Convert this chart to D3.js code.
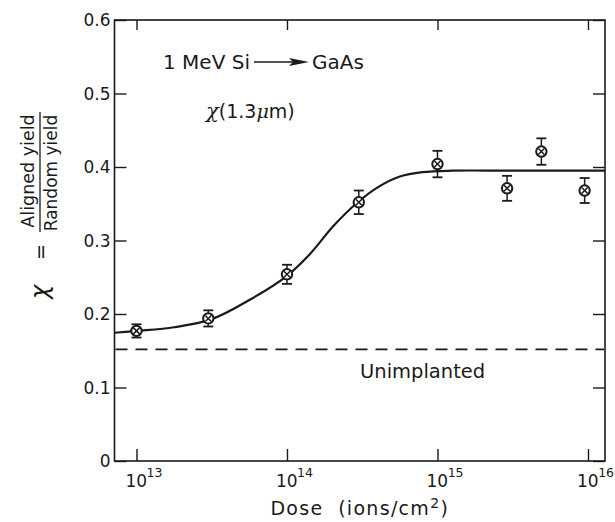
<!DOCTYPE html>
<html>
<head>
<meta charset="utf-8">
<script src="https://cdn.jsdelivr.net/npm/d3@7"></script>
<style>
  html, body { margin: 0; padding: 0; background: #fff; }
  svg { display: block; }
  text { font-family: "DejaVu Sans", Verdana, sans-serif; fill: #1a1a1a; }
</style>
</head>
<body>
<svg id="chart" width="615" height="522"></svg>
<script>
// Measured channeling yield vs. implant dose
const doses    = [1e13, 3e13, 1e14, 3e14, 1e15, 2.9e15, 4.9e15, 9.5e15];
const chiVals  = [0.177, 0.194, 0.254, 0.352, 0.404, 0.371, 0.421, 0.368];
const chiErr   = [0.009, 0.011, 0.013, 0.016, 0.018, 0.017, 0.018, 0.017];

// Fitted curve (log10 dose, chi)
const fitLogDose = [12.854, 13.0, 13.25, 13.5, 13.75, 14.0, 14.15, 14.31, 14.47, 14.6, 14.75, 14.9, 15.1, 15.5, 16.113];
const fitChi     = [0.1745, 0.177, 0.182, 0.193, 0.219, 0.252, 0.281, 0.320, 0.352, 0.372, 0.387, 0.393, 0.395, 0.395, 0.395];

// Unimplanted reference level
const unimplanted = 0.152;

const xTickExps = [13, 14, 15, 16];
const yTicks    = [0, 0.1, 0.2, 0.3, 0.4, 0.5, 0.6];

const svg = d3.select("#chart");
const plotLeft = 114.5, plotRight = 605, plotTop = 20, plotBottom = 461;

const x = d3.scaleLog().domain([Math.pow(10, 12.854), Math.pow(10, 16.113)]).range([plotLeft, plotRight]);
const y = d3.scaleLinear().domain([0, 0.6]).range([plotBottom, plotTop]);

const ink = "#1a1a1a";

// frame
svg.append("rect")
  .attr("x", plotLeft).attr("y", plotTop)
  .attr("width", plotRight - plotLeft).attr("height", plotBottom - plotTop)
  .attr("fill", "none").attr("stroke", ink).attr("stroke-width", 1.6);

const xTickVals = xTickExps.map(e => Math.pow(10, e));

// inward ticks on all four sides
const gx = svg.append("g").attr("transform", `translate(0,${plotBottom})`)
  .call(d3.axisBottom(x).tickValues(xTickVals).tickSize(-12).tickFormat(""));
const gxt = svg.append("g").attr("transform", `translate(0,${plotTop})`)
  .call(d3.axisTop(x).tickValues(xTickVals).tickSize(-10).tickFormat(""));
const gy = svg.append("g").attr("transform", `translate(${plotLeft},0)`)
  .call(d3.axisLeft(y).tickValues(yTicks).tickSize(-12).tickFormat(""));
const gyr = svg.append("g").attr("transform", `translate(${plotRight},0)`)
  .call(d3.axisRight(y).tickValues(yTicks).tickSize(-12).tickFormat(""));

[gx, gxt, gy, gyr].forEach(g => {
  g.select(".domain").remove();
  g.selectAll(".tick line").attr("stroke", ink).attr("stroke-width", 1.4);
});

// y tick labels
svg.append("g").selectAll("text").data(yTicks).join("text")
  .attr("x", plotLeft - 4)
  .attr("y", d => y(d) + 6)
  .attr("text-anchor", "end")
  .attr("font-size", 17)
  .text(d => d === 0 ? "0" : d.toFixed(1));

// x tick labels: "10" centred on the tick, exponent raised to its right
const xl = svg.append("g").selectAll("text").data(xTickExps).join("text")
  .attr("x", d => x(Math.pow(10, d)) - 11)
  .attr("y", plotBottom + 26)
  .attr("font-size", 17);
xl.append("tspan").text("10");
xl.append("tspan").attr("dx", -0.5).attr("dy", -10).attr("font-size", 12.5).text(d => d);

// x axis title
const xt = svg.append("text")
  .attr("x", (plotLeft + plotRight) / 2).attr("y", 515)
  .attr("text-anchor", "middle")
  .attr("font-size", 19)
  .attr("letter-spacing", 1.3)
  .attr("xml:space", "preserve");
xt.append("tspan").text("Dose  (ions/cm");
xt.append("tspan").attr("dy", -7).attr("font-size", 14).text("2");
xt.append("tspan").attr("dy", 7).text(")");

// y axis title: chi = Aligned yield / Random yield
const yt = svg.append("g");
yt.append("text")
  .attr("transform", "translate(48,292) rotate(-90)")
  .attr("text-anchor", "middle")
  .attr("font-size", 24)
  .attr("font-family", "DejaVu Serif, serif")
  .attr("font-style", "italic")
  .text("χ");
yt.append("text")
  .attr("transform", "translate(46.5,252) rotate(-90)")
  .attr("text-anchor", "middle")
  .attr("font-size", 19)
  .attr("font-family", "Liberation Sans, Arial, sans-serif")
  .text("=");
yt.append("text")
  .attr("transform", "translate(34,171) rotate(-90)")
  .attr("text-anchor", "middle")
  .attr("font-size", 17.5)
  .text("Aligned yield");
yt.append("line")
  .attr("x1", 40).attr("x2", 40).attr("y1", 232).attr("y2", 112)
  .attr("stroke", ink).attr("stroke-width", 1.3);
yt.append("text")
  .attr("transform", "translate(57,173) rotate(-90)")
  .attr("text-anchor", "middle")
  .attr("font-size", 17)
  .text("Random yield");

// unimplanted dashed line
svg.append("line")
  .attr("x1", plotLeft + 1).attr("x2", plotRight - 1)
  .attr("y1", y(unimplanted)).attr("y2", y(unimplanted))
  .attr("stroke", ink).attr("stroke-width", 1.8)
  .attr("stroke-dasharray", "12,8");
svg.append("text")
  .attr("x", 360).attr("y", 378)
  .attr("font-size", 19.5)
  .text("Unimplanted");

// fitted curve
const fitData = fitLogDose.map((e, i) => ({ d: Math.pow(10, e), v: fitChi[i] }));
svg.append("path")
  .datum(fitData)
  .attr("fill", "none")
  .attr("stroke", ink)
  .attr("stroke-width", 2.2)
  .attr("d", d3.line().x(p => x(p.d)).y(p => y(p.v)).curve(d3.curveCatmullRom.alpha(0.5)));

// data points with error bars
const pts = doses.map((d, i) => ({ d, v: chiVals[i], e: chiErr[i] }));
const pg = svg.append("g").selectAll("g").data(pts).join("g")
  .attr("transform", p => `translate(${x(p.d)},0)`);
pg.append("line")
  .attr("x1", 0).attr("x2", 0)
  .attr("y1", p => y(p.v + p.e)).attr("y2", p => y(p.v - p.e))
  .attr("stroke", ink).attr("stroke-width", 1.5);
pg.append("line")
  .attr("x1", -5).attr("x2", 5)
  .attr("y1", p => y(p.v + p.e)).attr("y2", p => y(p.v + p.e))
  .attr("stroke", ink).attr("stroke-width", 1.8);
pg.append("line")
  .attr("x1", -5).attr("x2", 5)
  .attr("y1", p => y(p.v - p.e)).attr("y2", p => y(p.v - p.e))
  .attr("stroke", ink).attr("stroke-width", 1.8);
pg.append("circle")
  .attr("cx", 0).attr("cy", p => y(p.v)).attr("r", 5.2)
  .attr("fill", "#fff").attr("stroke", ink).attr("stroke-width", 2);
pg.append("path")
  .attr("d", p => {
    const cy = y(p.v);
    return `M-3,${cy - 3}L3,${cy + 3}M-3,${cy + 3}L3,${cy - 3}`;
  })
  .attr("stroke", ink).attr("stroke-width", 1.5);

// annotations
svg.append("text")
  .attr("x", 163).attr("y", 69)
  .attr("font-size", 20)
  .text("1 MeV Si");
svg.append("line")
  .attr("x1", 254).attr("x2", 298).attr("y1", 62).attr("y2", 62)
  .attr("stroke", ink).attr("stroke-width", 1.4);
svg.append("path")
  .attr("d", "M289,58L309,62L289,66L293,62Z")
  .attr("fill", ink);
svg.append("text")
  .attr("x", 312).attr("y", 69)
  .attr("font-size", 20)
  .text("GaAs");

const chiLabel = svg.append("text")
  .attr("x", 206).attr("y", 118)
  .attr("font-size", 19);
chiLabel.append("tspan")
  .attr("font-family", "DejaVu Serif, serif")
  .attr("font-style", "italic")
  .attr("font-size", 21)
  .text("χ");
chiLabel.append("tspan").text("(1.3");
chiLabel.append("tspan")
  .attr("font-family", "DejaVu Serif, serif")
  .attr("font-style", "italic")
  .text("μ");
chiLabel.append("tspan").text("m)");
</script>
</body>
</html>
